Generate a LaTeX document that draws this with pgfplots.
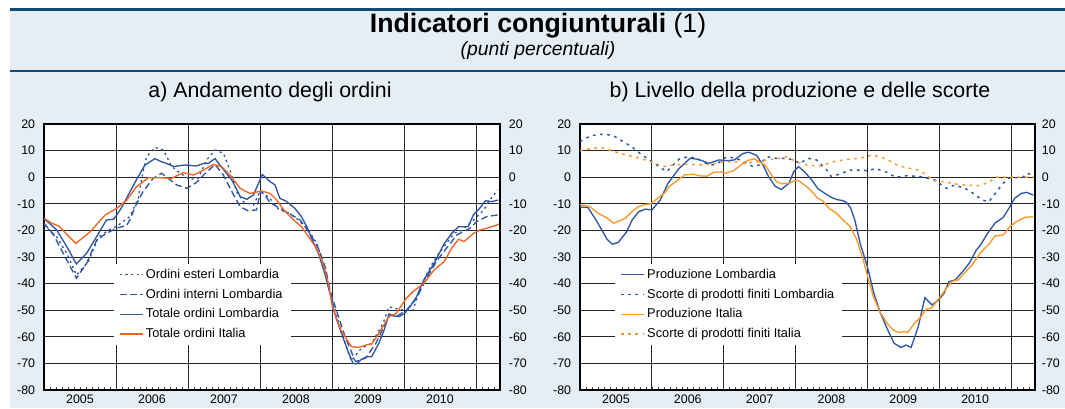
\documentclass[border=0pt]{standalone}
\usepackage{fontspec}
\setmainfont{Liberation Sans}
\usepackage{pgfplots}
\pgfplotsset{compat=1.18}
\definecolor{bg}{RGB}{230,238,245}
\definecolor{rulec}{RGB}{20,75,115}
\definecolor{lomb}{RGB}{47,85,165}
\definecolor{orA}{RGB}{240,100,35}
\definecolor{orB}{RGB}{247,152,40}
\pgfplotsset{
  panel/.style={
    scale only axis, height=199.5pt,
    xmin=0, xmax=76, ymin=-80, ymax=20,
    axis background/.style={fill=white},
    xtick={6,18,30,42,54,66},
    xticklabels={2005,2006,2007,2008,2009,2010},
    extra x ticks={12,24,36,48,60,72},
    extra x tick labels={},
    extra x tick style={grid=major, major tick length=0pt},
    minor xtick={1,...,75},
    minor tick length=2pt,
    major tick length=0pt,
    tick align=inside,
    xtick pos=bottom,
    ytick={-80,-70,...,20},
    yticklabels={-80,-70,-60,-50,-40,-30,-20,-10,0,10,20},
    ymajorgrids,
    major grid style={black!85, line width=0.6pt},
    axis line style={black, line width=0.8pt},
    minor tick style={black!80, line width=0.4pt},
    ticklabel style={font=\fontsize{9.3}{11}\selectfont},
    xticklabel style={anchor=north, inner sep=0pt, yshift=-3.5pt},
    yticklabel style={anchor=east, inner sep=0pt, xshift=-6.5pt},
    legend cell align=left,
    legend style={draw=none, fill=white, font=\fontsize{9.6}{11}\selectfont,
      inner xsep=4pt, inner ysep=2pt, row sep=2.4pt},
  },
  rlabels/.style={
    scale only axis, height=199.5pt,
    xmin=0, xmax=76, ymin=-80, ymax=20,
    hide x axis, axis y line*=right,
    axis line style={draw=none},
    major tick length=0pt,
    ytick={-80,-70,...,20},
    yticklabels={-80,-70,-60,-50,-40,-30,-20,-10,0,10,20},
    ticklabel style={font=\fontsize{9.3}{11}\selectfont},
  },
}
\begin{document}
\begin{tikzpicture}
\begin{scope}[x=0.75pt,y=0.75pt]
  \path[use as bounding box] (0,0) rectangle (1065,408);
  \fill[bg] (10,0) rectangle (1065,397.5);
  \draw[rulec, line width=2.4pt] (10,398.5) -- (1065,398.5);
  \draw[rulec, line width=0.8pt] (10,337) -- (1065,337);
  \node at (538,382) {\fontsize{20}{23}\selectfont\textbf{Indicatori congiunturali} (1)};
  \node at (538,357.5) {\fontsize{14.5}{17}\selectfont\textit{(punti percentuali)}};
  \node at (270,316) {\fontsize{16}{19}\selectfont a) Andamento degli ordini};
  \node at (800,316) {\fontsize{16}{19}\selectfont b) Livello della produzione e delle scorte};
\end{scope}

% ---------------- panel a ----------------
\begin{axis}[panel, at={(33pt,13.5pt)}, anchor=south west, width=342pt,
  legend style={at={(axis cs:11.6,-32.4)}, anchor=north west}]
\addplot[lomb, line width=1pt, dash pattern=on 1.6pt off 2.6pt] coordinates {
(0,-18) (2.1,-22.4) (3.8,-28.6) (5.4,-36.8) (7.4,-31.7) (9.1,-22.4) (10.8,-19.9) (12.4,-18) (14.3,-14.8) (15.7,-8) (16.5,2) (17.1,7.7) (18.5,11.2) (19.9,10.2) (21.3,4) (22.7,1.5) (24.3,-0.8) (25.7,-0.4) (27.1,6.5) (28.5,10.2) (29.9,9) (31,2.7) (32.1,-5.4) (33.2,-9.2) (34.9,-10.5) (36,-5.4) (36.4,-5.8) (37.7,-8.1) (39.1,-12.1) (40.7,-13.4) (42.3,-15.9) (44,-19.6) (45.5,-25) (46.9,-35) (47.8,-44) (49.5,-58) (51.2,-69) (52.9,-64.3) (54.6,-62.5) (56.5,-55) (57.5,-48.7) (58.4,-49.3) (60.1,-50) (61.5,-50) (62.6,-42.4) (64.4,-33.6) (66,-28) (68.4,-21) (69.6,-20) (71.6,-16.1) (73.3,-12.3) (74.3,-8.6) (75.6,-4.8)};
\addlegendentry{Ordini esteri Lombardia}
\addplot[lomb, line width=1pt, dash pattern=on 5pt off 2.6pt] coordinates {
(0,-17.3) (1.6,-21.7) (3.5,-29.9) (5.4,-38) (7.1,-32.4) (8.8,-23.6) (10.4,-21.1) (12.1,-19.2) (13.8,-18) (14.3,-16.1) (15.2,-11.1) (16.5,-5.4) (18.2,-0.4) (19.6,1.5) (20.7,-0.4) (22.1,-2.9) (23.8,-4.2) (25.4,-2) (26.6,0.8) (28.5,4.8) (29.9,0.8) (31.3,-5.4) (32.7,-11.1) (34,-12.6) (35.4,-12.3) (36.1,-5.4) (36.8,-6.7) (37.7,-9.6) (39.3,-11.7) (41,-13.8) (42.7,-16.1) (44.3,-21.1) (45.8,-27) (46.9,-34) (47.8,-43.7) (50.2,-60) (51.9,-69.3) (53.6,-68) (55.3,-62.5) (57.6,-51.8) (58.7,-52.4) (60.4,-50) (62.1,-45.5) (63.9,-37.4) (65.6,-31) (67.3,-26.1) (68.8,-21.7) (71,-19.2) (72.1,-16.7) (73.8,-14.8) (75.6,-14.2)};
\addlegendentry{Ordini interni Lombardia}
\addplot[lomb, line width=1pt] coordinates {
(0,-15.5) (2.1,-19.8) (3.8,-26.1) (5.4,-32.6) (7.1,-28.6) (9.1,-21.1) (10.4,-16.1) (11.6,-15.8) (12.7,-12.3) (14.1,-6.5) (15.4,-1) (16.8,4.5) (18.5,7) (19.6,5.8) (20.4,5.2) (21.6,4) (23.5,4.6) (25.4,4.2) (26.6,5.2) (27.4,5.2) (28.5,7) (29.3,4.6) (31.3,-1) (32.7,-7.3) (33.8,-8.3) (34.9,-6.7) (36.4,1) (37.7,-1.7) (38.5,-2.9) (39.3,-7.9) (40.5,-9.2) (41.8,-11.7) (42.9,-14.8) (43.8,-18.6) (44.6,-23) (45.8,-29) (46.9,-37) (47.8,-45) (48.6,-52.4) (49.8,-60) (50.6,-65) (51.5,-70) (52.1,-70.2) (52.9,-68.5) (53.8,-67.5) (54.6,-67.5) (55.8,-62.5) (56.7,-57.4) (57.5,-51.4) (58.4,-52.2) (59.2,-52.4) (60.1,-51.2) (61,-48.7) (62.1,-44.9) (63.3,-38.6) (65,-32.4) (66.7,-25) (68,-21) (69.1,-18.6) (70.7,-18.6) (71.6,-14) (72.4,-12.3) (73.6,-8.8) (74.6,-9.2) (75.7,-8.6)};
\addlegendentry{Totale ordini Lombardia}
\addplot[orA, line width=1pt] coordinates {
(0,-15.5) (1.5,-17.5) (2.5,-18.4) (3.8,-21.5) (5.3,-24.9) (7.7,-20.5) (9,-17.2) (10.2,-14.2) (12.1,-11.7) (13.8,-8.6) (15.4,-3.6) (17.4,-0.2) (19.3,-0.2) (21.3,-0.4) (23.2,1.7) (24.9,0.8) (26.6,2.7) (28.2,4.8) (29.6,4) (31,0.8) (32.7,-4.2) (34.3,-6.1) (36.3,-5.2) (37.7,-6.1) (38.8,-8.6) (39.9,-12.1) (41.6,-16.1) (42.9,-18.6) (44.3,-23) (45.5,-27) (46.6,-33) (47.4,-40) (48.1,-49) (49.5,-57.5) (51.2,-63.7) (52.4,-64) (54.1,-62.8) (54.6,-62.8) (55.8,-58.7) (57.5,-52.4) (58.7,-51.2) (60.4,-45.5) (61.5,-43) (63.3,-39.9) (65,-34.9) (66.7,-31.7) (68,-26.5) (69.1,-23.3) (70,-24.2) (71.6,-21.1) (72.7,-19.8) (73.8,-19.2) (75.4,-18) (75.8,-17.6)};
\addlegendentry{Totale ordini Italia}
\end{axis}
\begin{axis}[rlabels, at={(33pt,13.5pt)}, anchor=south west, width=342pt,
  yticklabel style={anchor=west, inner sep=0pt, xshift=6.5pt}]
\end{axis}

% ---------------- panel b ----------------
\begin{axis}[panel, at={(435pt,13.5pt)}, anchor=south west, width=341.25pt,
  legend style={at={(axis cs:5.8,-32.4)}, anchor=north west}]
\addplot[lomb, line width=1pt] coordinates {
(0,-11.3) (1.3,-11.3) (3,-17.3) (4.5,-23.3) (5.4,-25.2) (6.4,-24.5) (7.8,-20.5) (8.7,-16.1) (9.8,-13) (10.9,-12) (12,-12.3) (13.4,-8.6) (14.7,-2.3) (16.5,3.2) (18.4,7.1) (19.5,6.8) (20.4,6.2) (21.5,5.2) (23.2,6.5) (24.6,6.2) (25.8,6.5) (27.2,8.9) (28.2,9.4) (29.5,8.2) (30.6,4.5) (31.5,0.2) (32.6,-3.4) (33.6,-4.6) (34.9,-2.3) (35.7,2.1) (36.5,4) (37.6,1.8) (38.8,-1.3) (39.7,-4.2) (40.9,-6.1) (42,-7.6) (42.9,-8.4) (43.9,-8.8) (44.5,-9.5) (45.2,-11.5) (45.9,-16.1) (46.8,-24.9) (48,-33.6) (49.1,-43.7) (50.2,-51.2) (51.4,-57.4) (52.5,-62.5) (53.6,-64) (54.5,-63.1) (55.3,-64) (56.5,-56.2) (57.6,-45.3) (58.8,-48) (59.9,-46.2) (60.8,-43.7) (61.6,-39.3) (62.7,-38.6) (63.9,-35.5) (65,-32.4) (66.2,-27.4) (67,-25.2) (67.9,-21.7) (69.3,-17.3) (70.7,-15.1) (71.8,-11.1) (72.6,-7.9) (73.7,-6.1) (74.6,-5.7) (75.7,-6.7)};
\addlegendentry{Produzione Lombardia}
\addplot[lomb, line width=1.1pt, dash pattern=on 2pt off 3.4pt] coordinates {
(0,13.4) (1.7,15.5) (3.3,16.1) (4.7,16) (5.8,15.3) (7.2,13.4) (8.6,11.5) (10,9) (11.4,6.7) (12.8,4.6) (14.5,2.1) (15.3,4) (16.7,7.1) (18.1,7.7) (19.5,7.1) (21.1,5.2) (22.3,4.6) (23.4,5.8) (24.5,7.7) (26.1,7.1) (27.8,5.2) (28.9,4) (30,4.6) (31.2,7.7) (32.8,7.1) (34.5,7.1) (35.6,6.5) (36.7,5.2) (38.1,7.1) (39.5,6.5) (41.2,2.7) (42,0.2) (43.4,1.2) (45.1,2.7) (46.7,2.7) (48.2,2.4) (49.3,3.3) (51.3,1.8) (52.7,0) (54.7,0.6) (57,0.2) (59.2,-1) (61.2,-4.2) (62.6,-2.9) (64.9,-4.8) (67.2,-8.6) (68.3,-9.2) (70,-4.2) (71.4,-0.4) (74,0) (74.6,1.5) (75.7,0.8)};
\addlegendentry{Scorte di prodotti finiti Lombardia}
\addplot[orB, line width=1pt] coordinates {
(0,-10.4) (1.6,-11) (3,-13.5) (4.4,-15.2) (5.6,-17.3) (6.7,-16.3) (7.6,-15.4) (8.7,-12.9) (9.8,-11) (11,-10.2) (11.8,-10) (13,-7.9) (14.1,-6) (14.9,-3.5) (16.4,-1) (17.5,0.9) (18.9,1.1) (20.1,0.5) (21.2,0.4) (22.3,1.8) (23.5,2) (24.3,1.5) (25.7,2.5) (26.9,4.6) (28,6.3) (29.1,6.9) (30.9,4.6) (32,0.9) (32.8,-1.6) (33.7,-2.5) (34.8,-2.3) (36,-1.3) (36.5,-1.3) (37.7,-3.3) (38.5,-4.8) (39.7,-7.9) (40.5,-8.8) (41.6,-11.7) (42.8,-13.5) (43.9,-16) (45.1,-18.5) (46.2,-23.3) (47.3,-31) (48.2,-38.6) (49,-44.9) (50.2,-51.1) (51.3,-54.9) (52.4,-57.6) (53.3,-58.4) (54.1,-58) (54.7,-58.4) (55.9,-54.9) (57,-52.4) (57.8,-49.6) (58.7,-49.2) (59.8,-46.1) (61,-42.4) (62.1,-39.2) (63.2,-38.6) (64.4,-35.5) (65.5,-33) (66.8,-28.6) (68.4,-24.9) (69.3,-22.1) (70.7,-21.7) (71.8,-18.6) (72.9,-16.7) (74.3,-15.1) (75.7,-14.8)};
\addlegendentry{Produzione Italia}
\addplot[orB, line width=1.1pt, dash pattern=on 2pt off 3.4pt] coordinates {
(0,10) (2.2,10.9) (3.9,10.9) (5.8,9.6) (7.8,8.3) (10,7.1) (12.2,5.5) (13.9,4) (15.6,4.6) (17.8,4.8) (20,4.6) (21.7,4.8) (23.9,5.8) (26.1,5.8) (27.8,5.3) (29.5,5.8) (31.2,6.5) (33.4,7.1) (34.5,7.7) (36.2,5.8) (37.8,4.6) (40.1,4.2) (42.3,5.8) (44.5,6.7) (46.7,7.1) (48.7,8.3) (50.1,7.7) (51.5,6.5) (52.9,4.6) (54.5,3.6) (56.5,2.7) (57.9,0.8) (59,-1.3) (60.7,-1.7) (62.9,-2.6) (64.5,-3) (66.8,-3.2) (68.4,-1.7) (69.5,0) (72,0) (75.7,0)};
\addlegendentry{Scorte di prodotti finiti Italia}
\end{axis}
\begin{axis}[rlabels, at={(435pt,13.5pt)}, anchor=south west, width=341.25pt,
  yticklabel style={anchor=west, inner sep=0pt, xshift=5pt}]
\end{axis}
\end{tikzpicture}
\end{document}
